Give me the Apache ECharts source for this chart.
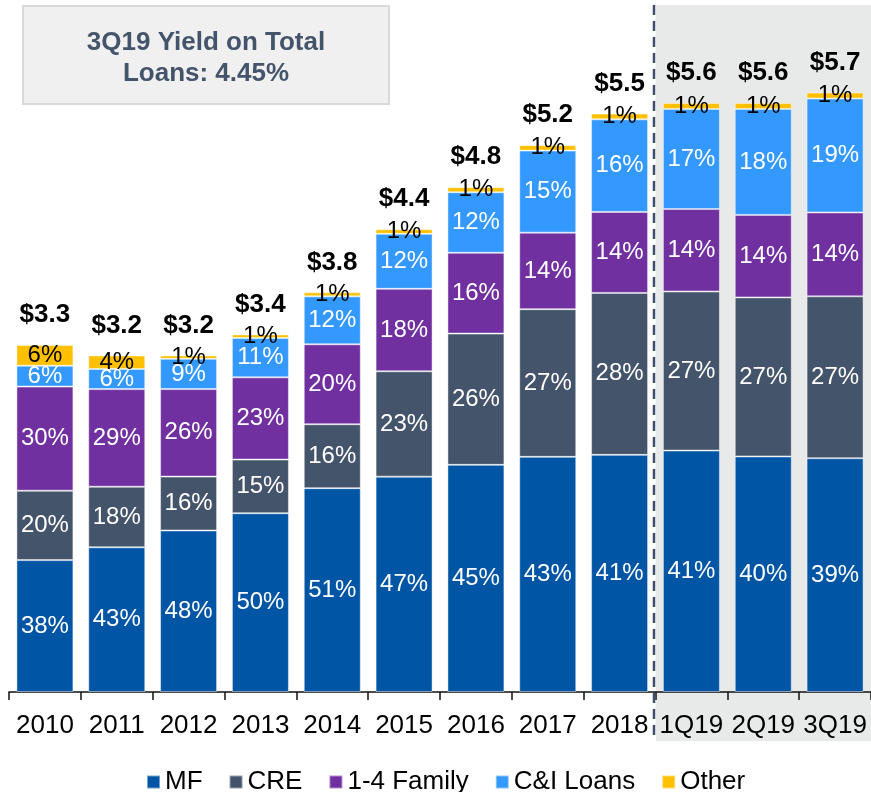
<!DOCTYPE html>
<html>
<head>
<meta charset="utf-8">
<script src="https://cdn.jsdelivr.net/npm/echarts@6/dist/echarts.min.js"></script>
<style>
  html, body { margin: 0; padding: 0; background: #fff; }
  #chart { width: 871px; height: 792px; }
</style>
</head>
<body>
<div id="chart"></div>
<script>
// categories and totals ($B)
const categories = ["2010", "2011", "2012", "2013", "2014", "2015", "2016", "2017", "2018", "1Q19", "2Q19", "3Q19"];
const totals = [3.3, 3.2, 3.2, 3.4, 3.8, 4.4, 4.8, 5.2, 5.5, 5.6, 5.6, 5.7];

// mix of loan book, % of total
const mfPct = [38, 43, 48, 50, 51, 47, 45, 43, 41, 41, 40, 39];
const crePct = [20, 18, 16, 15, 16, 23, 26, 27, 28, 27, 27, 27];
const familyPct = [30, 29, 26, 23, 20, 18, 16, 14, 14, 14, 14, 14];
const ciPct = [6, 6, 9, 11, 12, 12, 12, 15, 16, 17, 18, 19];
const otherPct = [6, 4, 1, 1, 1, 1, 1, 1, 1, 1, 1, 1];

const font = "'Liberation Sans', Arial, sans-serif";

let chart = echarts.init(document.getElementById("chart"));

let allPct = [mfPct, crePct, familyPct, ciPct, otherPct];
// dollar size of a segment = total * share
function segData(pct) {
  return pct.map(function (p, i) {
    let sum = 0;
    allPct.forEach(function (a) { sum += a[i]; });
    return { value: totals[i] * p / sum, pct: p };
  });
}

function segSeries(name, pct, color, txtColor) {
  return {
    name: name,
    type: "bar",
    stack: "loans",
    barWidth: 57,
    data: segData(pct),
    itemStyle: { color: color, borderColor: "rgba(255,255,255,0.45)", borderWidth: 1 },
    label: {
      show: true,
      position: "inside",
      color: txtColor,
      fontFamily: font,
      fontSize: 24,
      textBorderWidth: 0,
      formatter: function (p) { return p.data.pct + "%"; }
    },
    emphasis: { disabled: true }
  };
}

let option = {
  animation: false,
  grid: { left: 9, right: -1, top: 61, bottom: 100, containLabel: false },
  legend: {
    data: ["MF", "CRE", "1-4 Family", "C&I Loans", "Other"],
    left: 141,
    top: 764,
    icon: "rect",
    itemWidth: 13,
    itemHeight: 13,
    itemGap: 26,
    textStyle: { fontFamily: font, fontSize: 26, color: "#000" }
  },
  xAxis: {
    type: "category",
    data: categories,
    axisLine: { lineStyle: { color: "#111", width: 1.5 } },
    axisTick: { show: true, length: 8, lineStyle: { color: "#111", width: 1.5 } },
    axisLabel: { fontFamily: font, fontSize: 26, color: "#000", margin: 21, interval: 0 }
  },
  yAxis: {
    type: "value",
    min: 0,
    max: 6,
    show: false,
    splitLine: { show: false }
  },
  series: [
    segSeries("MF", mfPct, "#0055A5", "#fff"),
    segSeries("CRE", crePct, "#44546A", "#fff"),
    segSeries("1-4 Family", familyPct, "#7030A0", "#fff"),
    segSeries("C&I Loans", ciPct, "#3399FF", "#fff"),
    segSeries("Other", otherPct, "#FFC000", "#000"),
    {
      name: "Total",
      type: "bar",
      stack: "loans",
      barWidth: 57,
      data: totals.map(function (t) { return { value: 0, total: t }; }),
      itemStyle: { color: "transparent" },
      label: {
        show: true,
        position: "top",
        distance: 17,
        color: "#000",
        fontFamily: font,
        fontSize: 26,
        fontWeight: "bold",
        textBorderWidth: 0,
        formatter: function (p) { return "$" + p.data.total.toFixed(1); }
      },
      emphasis: { disabled: true }
    }
  ]
};

chart.setOption(option);

// shaded quarterly area + dashed divider
let x1 = chart.convertToPixel({ xAxisIndex: 0 }, "2018");
let x2 = chart.convertToPixel({ xAxisIndex: 0 }, "1Q19");
let splitX = Math.round((x1 + x2) / 2);

chart.setOption({
  graphic: [
    {
      type: "rect",
      z: -10,
      silent: true,
      shape: { x: splitX, y: 5, width: 871 - splitX, height: 736 },
      style: { fill: "#E8E9E9" }
    },
    {
      type: "line",
      z: 100,
      silent: true,
      shape: { x1: splitX - 2, y1: 5, x2: splitX - 2, y2: 740 },
      style: { stroke: "#3E5068", lineWidth: 2.5, lineDash: [10, 6] }
    },
    {
      type: "group",
      left: 22,
      top: 5,
      children: [
        {
          type: "rect",
          shape: { x: 0, y: 0, width: 366, height: 98 },
          style: { fill: "#F0F0F0", stroke: "#D9D9D9", lineWidth: 2 }
        },
        {
          type: "text",
          x: 183,
          y: 52,
          style: {
            text: "3Q19 Yield on Total\nLoans: 4.45%",
            fill: "#44546A",
            font: "bold 26px " + font,
            lineHeight: 31,
            align: "center",
            verticalAlign: "middle"
          }
        }
      ]
    }
  ]
});

window.addEventListener("resize", function () {
  chart.resize();
});
</script>
</body>
</html>
